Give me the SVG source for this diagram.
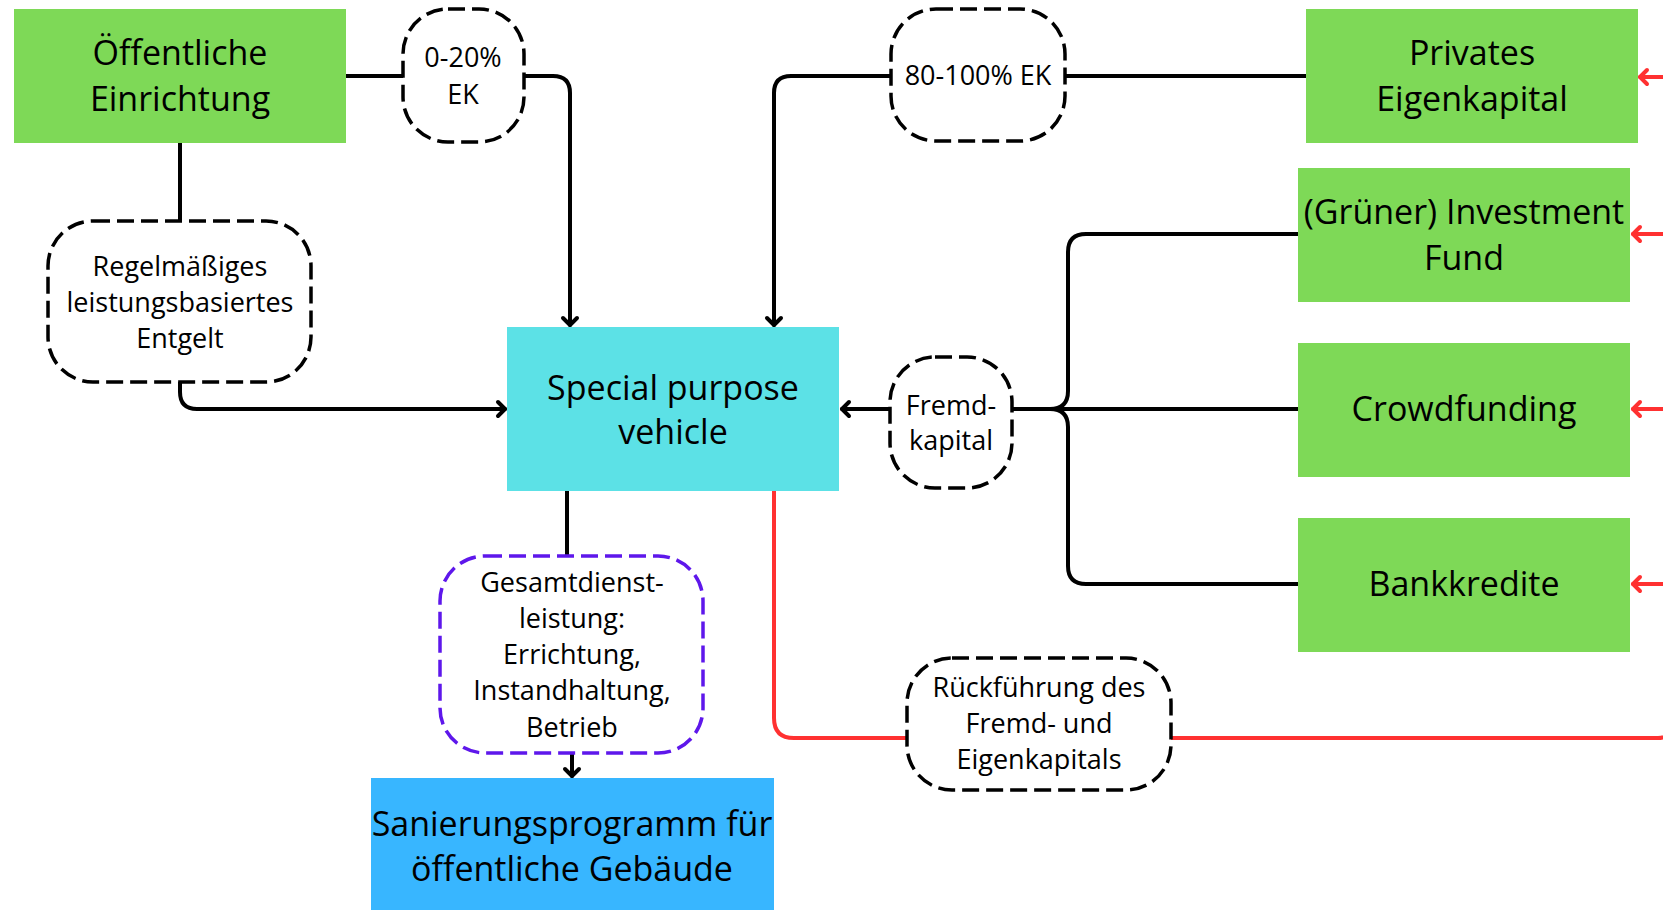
<svg xmlns="http://www.w3.org/2000/svg" width="1663" height="910" viewBox="0 0 1663 910">
<defs>
<style>
.green{fill:#7ed957}
.big{font-family:"Open Sans","Noto Sans",sans-serif;font-size:34px;fill:#000;text-anchor:middle}
.small{font-family:"Open Sans","Noto Sans",sans-serif;font-size:27px;fill:#000;text-anchor:middle}
.bubble{fill:#fff;stroke:#000;stroke-width:3.5;stroke-dasharray:17 7}
.bubbleP{fill:#fff;stroke:#5e17eb;stroke-width:3.5;stroke-dasharray:17 7}
.conn{fill:none;stroke:#000;stroke-width:4;stroke-linecap:round;stroke-linejoin:round}
.red{fill:none;stroke:#ff3131;stroke-width:4;stroke-linecap:round;stroke-linejoin:round}
</style>
<marker id="ab" markerUnits="userSpaceOnUse" markerWidth="20" markerHeight="20" refX="11" refY="10" orient="auto">
<path d="M4,3 L11,10 L4,17" fill="none" stroke="#000" stroke-width="4" stroke-linecap="round" stroke-linejoin="round"/>
</marker>
<marker id="ar" markerUnits="userSpaceOnUse" markerWidth="20" markerHeight="20" refX="11" refY="10" orient="auto">
<path d="M4,3 L11,10 L4,17" fill="none" stroke="#ff3131" stroke-width="4" stroke-linecap="round" stroke-linejoin="round"/>
</marker>
</defs>
<rect width="1663" height="910" fill="#fff"/>

<g id="connectors">
<path class="conn" d="M346,76 H403"/>
<path class="conn" d="M524,76 H553 Q570,76 570,93 V325" marker-end="url(#ab)"/>
<path class="conn" d="M1306,76 H1065"/>
<path class="conn" d="M891,76 H791 Q774,76 774,93 V325" marker-end="url(#ab)"/>
<path class="conn" d="M180,143 V221"/>
<path class="conn" d="M180,382 V392 Q180,409 197,409 H505" marker-end="url(#ab)"/>
<path class="conn" d="M890,409 H842" marker-end="url(#ab)"/>
<path class="conn" d="M1012,409 H1298"/>
<path class="conn" d="M1298,234 H1086 Q1068,234 1068,252 V391 Q1068,409 1050,409"/>
<path class="conn" d="M1298,584 H1086 Q1068,584 1068,566 V427 Q1068,409 1050,409"/>
<path class="conn" d="M567,491 V556"/>
<path class="conn" d="M572,753 V776" marker-end="url(#ab)"/>
<path class="red" d="M774,491 V718 Q774,738 794,738 H907"/>
<path class="red" d="M1171,738 H1658 Q1670,738 1672,726"/>
<path class="red" d="M1670,77 H1640" marker-end="url(#ar)"/>
<path class="red" d="M1670,234 H1633" marker-end="url(#ar)"/>
<path class="red" d="M1670,409 H1633" marker-end="url(#ar)"/>
<path class="red" d="M1670,584 H1633" marker-end="url(#ar)"/>
</g>

<g id="oeffentliche">
<rect class="green" x="14" y="9" width="332" height="134"/>
<text class="big" x="180" y="65">Öffentliche</text>
<text class="big" x="180" y="111">Einrichtung</text>
</g>

<g id="privates">
<rect class="green" x="1306" y="9" width="332" height="134"/>
<text class="big" x="1472" y="65">Privates</text>
<text class="big" x="1472" y="111">Eigenkapital</text>
</g>

<g id="investment">
<rect class="green" x="1298" y="168" width="332" height="134"/>
<text class="big" x="1464" y="224">(Grüner) Investment</text>
<text class="big" x="1464" y="270">Fund</text>
</g>

<g id="crowdfunding">
<rect class="green" x="1298" y="343" width="332" height="134"/>
<text class="big" x="1464" y="421">Crowdfunding</text>
</g>

<g id="bankkredite">
<rect class="green" x="1298" y="518" width="332" height="134"/>
<text class="big" x="1464" y="596">Bankkredite</text>
</g>

<g id="spv">
<rect x="507" y="327" width="332" height="164" fill="#5ce1e6"/>
<text class="big" x="673" y="400">Special purpose</text>
<text class="big" x="673" y="444">vehicle</text>
</g>

<g id="sanierung">
<rect x="371" y="778" width="403" height="132" fill="#38b6ff"/>
<text class="big" x="572" y="836">Sanierungsprogramm für</text>
<text class="big" x="572" y="881">öffentliche Gebäude</text>
</g>

<g id="ek020">
<rect class="bubble" x="403" y="9" width="121" height="133" rx="45"/>
<text class="small" x="463" y="67">0-20%</text>
<text class="small" x="463" y="104">EK</text>
</g>

<g id="ek80100">
<rect class="bubble" x="891" y="9" width="174" height="132" rx="45"/>
<text class="small" x="978" y="85">80-100% EK</text>
</g>

<g id="entgelt">
<rect class="bubble" x="48" y="221" width="263" height="161" rx="45"/>
<text class="small" x="180" y="276">Regelmäßiges</text>
<text class="small" x="180" y="312">leistungsbasiertes</text>
<text class="small" x="180" y="348">Entgelt</text>
</g>

<g id="fremdkapital">
<rect class="bubble" x="890" y="357" width="122" height="131" rx="45"/>
<text class="small" x="951" y="415">Fremd-</text>
<text class="small" x="951" y="450">kapital</text>
</g>

<g id="gesamtdienstleistung">
<rect class="bubbleP" x="440" y="556" width="263" height="197" rx="45"/>
<text class="small" x="572" y="592">Gesamtdienst-</text>
<text class="small" x="572" y="628">leistung:</text>
<text class="small" x="572" y="664">Errichtung,</text>
<text class="small" x="572" y="700">Instandhaltung,</text>
<text class="small" x="572" y="737">Betrieb</text>
</g>

<g id="rueckfuehrung">
<rect class="bubble" x="907" y="658" width="264" height="132" rx="45"/>
<text class="small" x="1039" y="697">Rückführung des</text>
<text class="small" x="1039" y="733">Fremd- und</text>
<text class="small" x="1039" y="769">Eigenkapitals</text>
</g>
</svg>
